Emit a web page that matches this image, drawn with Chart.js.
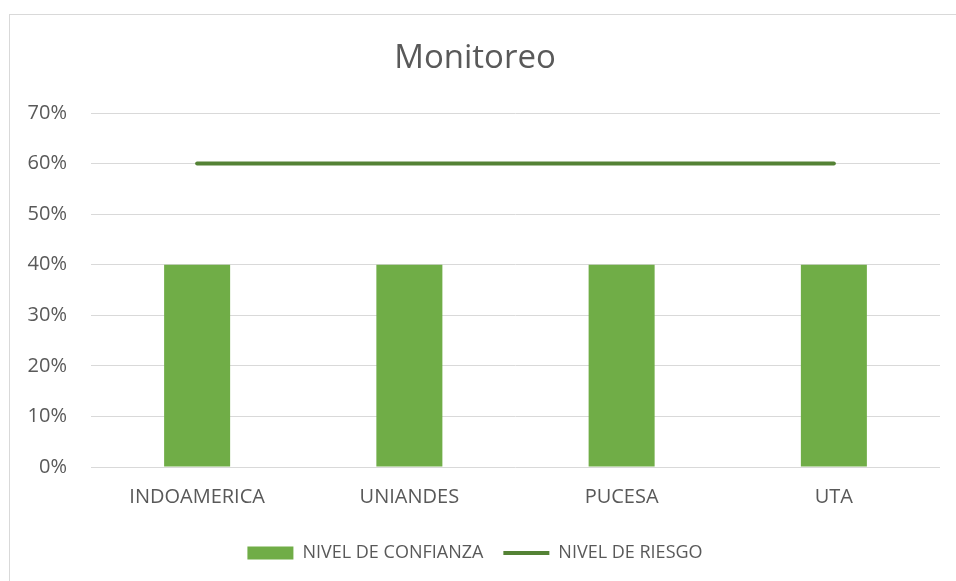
<!DOCTYPE html>
<html>
<head>
<meta charset="utf-8">
<script src="https://cdn.jsdelivr.net/npm/chart.js@4"></script>
<style>
  html, body { margin: 0; padding: 0; background: #fff; overflow: hidden; }
  #marco { position: absolute; left: 9px; top: 14px; width: 1000px; height: 620px; border: 1px solid #d9d9d9; }
  #caja { position: absolute; left: 0; top: 0; width: 956px; height: 581px; }
</style>
</head>
<body>
<div id="marco"></div>
<div id="caja"><canvas id="meuGrafico"></canvas></div>
<script>
const categorias = ['INDOAMERICA', 'UNIANDES', 'PUCESA', 'UTA'];
const nivelConfianza = [0.4, 0.4, 0.4, 0.4];
const nivelRiesgo = [0.6, 0.6, 0.6, 0.6];
const ticksY = [0, 0.1, 0.2, 0.3, 0.4, 0.5, 0.6, 0.7];

const gris = '#595959';
const fuente = "'Open Sans', sans-serif";

function carregarGrafico() {
    const ctx = document.getElementById('meuGrafico').getContext('2d');

    new Chart(ctx, {
        data: {
            labels: categorias,
            datasets: [{
                type: 'bar',
                label: 'NIVEL DE CONFIANZA',
                data: nivelConfianza,
                backgroundColor: '#70ad47',
                borderWidth: 0,
                barPercentage: 0.311,
                categoryPercentage: 1,
                pointStyle: 'rect',
                order: 2
            }, {
                type: 'line',
                label: 'NIVEL DE RIESGO',
                data: nivelRiesgo,
                borderColor: '#548235',
                backgroundColor: '#548235',
                borderWidth: 4,
                borderCapStyle: 'round',
                pointRadius: 0,
                pointHoverRadius: 0,
                pointStyle: 'line',
                order: 1
            }]
        },
        options: {
            responsive: true,
            maintainAspectRatio: false,
            animation: false,
            layout: { padding: { left: 10, right: 16, top: 0, bottom: 9 } },
            scales: {
                x: {
                    offset: true,
                    grid: { display: false, drawTicks: false },
                    border: { display: false },
                    ticks: { color: gris, font: { family: fuente, size: 20 }, padding: 18, maxRotation: 0 },
                    afterFit: (scale) => { scale.height = 57; }
                },
                y: {
                    min: 0,
                    max: 0.7,
                    afterBuildTicks: (scale) => { scale.ticks = ticksY.map(v => ({ value: v })); },
                    grid: { color: '#d9d9d9', lineWidth: 1, drawTicks: false },
                    border: { display: false },
                    ticks: {
                        color: gris,
                        font: { family: fuente, size: 20 },
                        padding: 24,
                        callback: (v) => Math.round(v * 100) + '%'
                    },
                    afterFit: (scale) => { scale.width = 81; }
                }
            },
            plugins: {
                title: {
                    display: true,
                    text: 'Monitoreo',
                    color: gris,
                    font: { family: fuente, size: 33, weight: 'normal' },
                    padding: { top: 39, bottom: 34.4 }
                },
                legend: {
                    position: 'bottom',
                    labels: {
                        color: gris,
                        font: { family: fuente, size: 18 },
                        usePointStyle: true,
                        pointStyleWidth: 46,
                        boxHeight: 13,
                        padding: 20,
                        sort: (a, b) => a.datasetIndex - b.datasetIndex
                    }
                },
                tooltip: { enabled: false }
            }
        }
    });
}

document.addEventListener('DOMContentLoaded', carregarGrafico);
</script>
</body>
</html>
